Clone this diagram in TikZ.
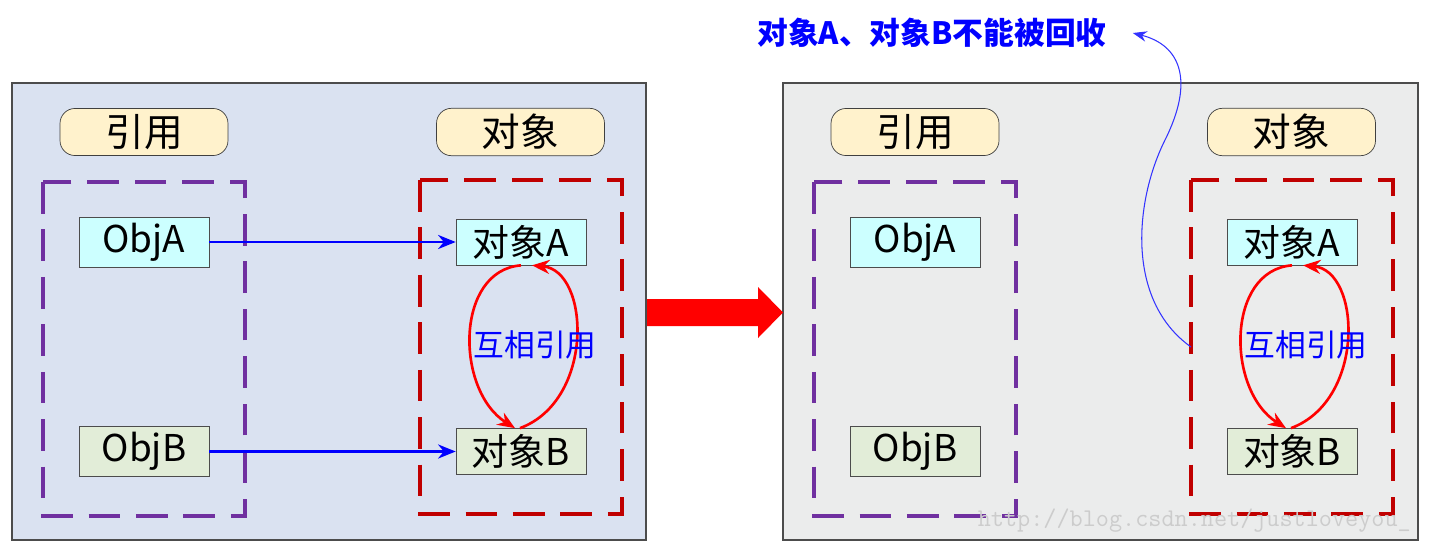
\documentclass[tikz,border=0pt]{standalone}
\usepackage{fontspec}
\setmainfont{Noto Sans CJK SC}
\usetikzlibrary{arrows.meta}

\definecolor{panelblue}{RGB}{218,226,241}
\definecolor{panelgray}{RGB}{235,236,236}
\definecolor{hdrfill}{RGB}{255,242,204}
\definecolor{cyanfill}{RGB}{204,255,255}
\definecolor{greenfill}{RGB}{226,237,216}
\definecolor{grpurple}{RGB}{112,48,160}
\definecolor{grred}{RGB}{192,0,0}

\tikzset{
  hdrbox/.style={draw=black!75, fill=hdrfill, rounded corners=0.3cm,
    minimum width=3.36cm, minimum height=0.9cm, font=\fontsize{22}{24}\selectfont},
  itembox/.style={draw=black!70, minimum width=2.6cm, minimum height=0.92cm,
    font=\fontsize{21}{23}\selectfont},
  refgroup/.style={draw=grpurple, line width=2.2pt, dash pattern=on 18pt off 9pt},
  objgroup/.style={draw=grred, line width=2.2pt, dash pattern=on 18pt off 9pt},
  refarrow/.style={draw=blue, line width=1.5pt, -{Stealth[length=10pt,width=8pt]}},
  looparrow/.style={draw=red, line width=1.5pt, -{Stealth[length=10pt,width=8pt]}},
  mutual/.style={text=blue, font=\fontsize{17.5}{19}\selectfont}
}

\begin{document}
\begin{tikzpicture}[x=0.02cm, y=-0.02cm]
  \useasboundingbox (0,0) rectangle (1432,554);

    % Panels
  \draw[draw=black!70, line width=0.8pt, fill=panelblue] (12,83) rectangle (646,540);
  \draw[draw=black!70, line width=0.8pt, fill=panelgray] (783,83) rectangle (1418,540);

    % Left panel: headers and groups
  \node[hdrbox] (refL) at (144,132) {引用};
  \node[hdrbox] (grpL) at (520.5,132) {对象};
  \draw[refgroup] (43,182) rectangle (245,516);
  \draw[objgroup] (420,180) rectangle (622,514);

    % Left panel: references and objects
  \node[itembox, fill=cyanfill] (objAL) at (144,242) {ObjA};
  \node[itembox, fill=greenfill] (objBL) at (144,451.5) {ObjB};
  \node[itembox, fill=cyanfill] (tgtAL) at (521,242) {对象A};
  \node[itembox, fill=greenfill] (tgtBL) at (521,451.5) {对象B};

  \draw[refarrow] (objAL) -- (tgtAL);
  \draw[refarrow] (objBL) -- (tgtBL);

    % Left panel: mutual reference loop
  \draw[looparrow] (tgtAL.south) .. controls +(-66,5) and +(-60,-38) .. ([xshift=-0.12cm]tgtBL.north);
  \draw[looparrow] ([xshift=-0.02cm]tgtBL.north) .. controls +(75,-28) and +(58,5) .. ([xshift=0.22cm]tgtAL.south);
  \node[mutual] (mutL) at (535,345) {互相引用};

    % Transition arrow
  \fill[red] (647,299) -- (758,299) -- (758,287) -- (783,312.5) -- (758,338) -- (758,326) -- (647,326) -- cycle;

    % Right panel: headers and groups
  \node[hdrbox] (refR) at (915,132) {引用};
  \node[hdrbox] (grpR) at (1291.5,132) {对象};
  \draw[refgroup] (814,182) rectangle (1016,516);
  \draw[objgroup] (1191,180) rectangle (1393,514);

    % Right panel: references and objects
  \node[itembox, fill=cyanfill] (objAR) at (915,242) {ObjA};
  \node[itembox, fill=greenfill] (objBR) at (915,451.5) {ObjB};
  \node[itembox, fill=cyanfill] (tgtAR) at (1292,242) {对象A};
  \node[itembox, fill=greenfill] (tgtBR) at (1292,451.5) {对象B};

  \draw[looparrow] (tgtAR.south) .. controls +(-66,5) and +(-60,-38) .. ([xshift=-0.12cm]tgtBR.north);
  \draw[looparrow] ([xshift=-0.02cm]tgtBR.north) .. controls +(75,-28) and +(58,5) .. ([xshift=0.22cm]tgtAR.south);
  \node[mutual] (mutR) at (1306,345) {互相引用};

    % Note on the right group
  \node[text=blue, font=\bfseries\fontsize{17.5}{19}\selectfont] (note) at (932,33) {对象A、对象B不能被回收};
  \coordinate (noteStart) at (1191,347);
  \draw[draw=blue!80, line width=0.6pt, -{Stealth[length=8pt,width=6pt]}]
    (noteStart) .. controls (1125,300) and (1135,200) .. (1165,140)
    .. controls (1195,80) and (1180,45) .. ([xshift=0.4cm]note.east);

    % Watermark
  \node[anchor=east, text=black!20, font=\ttfamily\fontsize{14.5}{16}\selectfont] (mark) at (1417,521) {http://blog.csdn.net/justloveyou\_};
\end{tikzpicture}
\end{document}
